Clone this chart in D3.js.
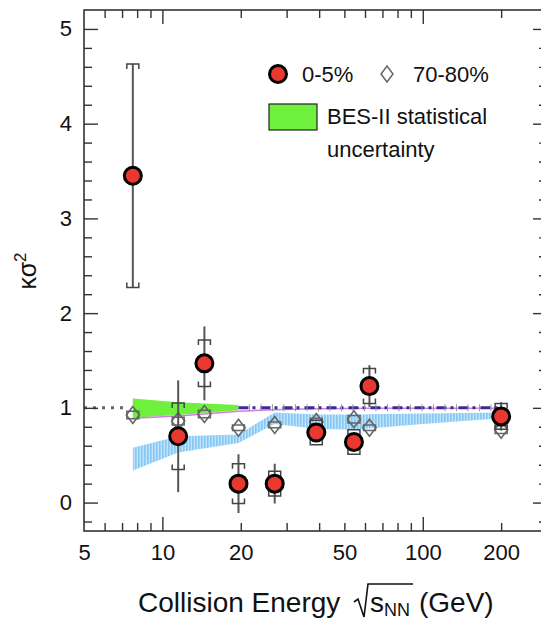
<!DOCTYPE html>
<html>
<head>
<meta charset="utf-8">
<script src="https://cdn.jsdelivr.net/npm/d3@7"></script>
<style>
  body { margin: 0; background: #fff; }
  text { font-family: "Liberation Sans", Arial, Helvetica, sans-serif; fill: #111; }
</style>
</head>
<body>
<svg id="chart" width="541" height="620"></svg>
<script>
// Collision energies (GeV)
const energies = [7.7, 11.5, 14.5, 19.6, 27, 39, 54.4, 62.4, 200];

// 0-5% central: value, statistical and systematic errors
const central     = [3.45, 0.70, 1.47, 0.20, 0.20, 0.74, 0.64, 1.23, 0.91];
const centralStat = [1.18, 0.59, 0.39, 0.31, 0.21, 0.06, 0.06, 0.22, 0.15];
const centralSys  = [1.18, 0.35, 0.245, 0.21, 0.13, 0.13, 0.13, 0.185, 0.135];

// 70-80% peripheral
const peripheral    = [0.925, 0.86, 0.935, 0.79, 0.82, 0.85, 0.88, 0.79, 0.77];
const peripheralSys = [0.04, 0.04, 0.04, 0.03, 0.03, 0.04, 0.04, 0.03, 0.04];

// BES-II projected statistical uncertainty band
const besEnergies = [7.7, 11.5, 14.5, 19.6];
const besUpper    = [1.10, 1.06, 1.045, 1.03];
const besLower    = [0.895, 0.925, 0.945, 0.975];

// Model band (light blue, hatched)
const bandEnergies = [7.7, 11.5, 19.6, 27, 39, 54.4, 100, 200];
const bandUpper    = [0.58, 0.70, 0.72, 0.95, 0.93, 0.93, 0.94, 0.95];
const bandLower    = [0.34, 0.53, 0.63, 0.83, 0.78, 0.77, 0.83, 0.89];

// Thin violet curve
const curveEnergies = [7.7, 11.5, 14.5, 19.6, 27, 39, 62.4, 200];
const curveValues   = [0.89, 0.915, 0.935, 0.965, 0.98, 0.99, 0.995, 0.995];

// Reference line at 1 (dash-dot section)
const refEnergies = [19.6, 200];
const refValues   = [1.0, 1.0];
const refDotEnergies = [5, 7.3];

// Axis ticks
const xLabelTicks = [5, 10, 20, 50, 100, 200];
const xMajorTicks = [10, 100];
const xMinorTicks = [6, 7, 8, 9, 20, 30, 40, 50, 60, 70, 80, 90, 200, 300];
const yMajorTicks = [0, 1, 2, 3, 4, 5];
const yMinorTicks = d3.range(-0.2, 5.2, 0.2).map(v => +v.toFixed(1)).filter(v => Math.abs(v - Math.round(v)) > 0.01);

const svg = d3.select("#chart");
const mLeft = 84, mRight = 547, mTop = 10, mBottom = 531;
const x = d3.scaleLog().domain([5, 300]).range([mLeft, mRight]);
const y = d3.scaleLinear().domain([-0.3, 5.2]).range([mBottom, mTop]);

// hatch pattern for the blue band
const defs = svg.append("defs");
const pat = defs.append("pattern").attr("id", "vhatch")
  .attr("patternUnits", "userSpaceOnUse").attr("width", 3).attr("height", 10);
pat.append("rect").attr("width", 3).attr("height", 10).attr("fill", "#bfe3fb");
pat.append("rect").attr("width", 1.6).attr("height", 10).attr("fill", "#86c8f3");

const plot = svg.append("g");

// blue band
plot.append("path")
  .datum(bandEnergies.map((e, i) => [e, bandLower[i], bandUpper[i]]))
  .attr("fill", "url(#vhatch)")
  .attr("d", d3.area().x(d => x(d[0])).y0(d => y(d[1])).y1(d => y(d[2])));

// green band
plot.append("path")
  .datum(besEnergies.map((e, i) => [e, besLower[i], besUpper[i]]))
  .attr("fill", "#6ef03c")
  .attr("d", d3.area().x(d => x(d[0])).y0(d => y(d[1])).y1(d => y(d[2])));

// violet curve
plot.append("path")
  .datum(curveEnergies.map((e, i) => [e, curveValues[i]]))
  .attr("fill", "none").attr("stroke", "#cf7fe6").attr("stroke-width", 1.5)
  .attr("d", d3.line().x(d => x(d[0])).y(d => y(d[1])));

// dotted reference segment at 1
plot.append("line")
  .attr("x1", x(refDotEnergies[0])).attr("x2", x(refDotEnergies[1]))
  .attr("y1", y(1)).attr("y2", y(1))
  .attr("stroke", "#666").attr("stroke-width", 3).attr("stroke-dasharray", "3,6");

// dash-dot reference line
const refLine = d3.line().x(d => x(d[0])).y(d => y(d[1]));
const refData = refEnergies.map((e, i) => [e, refValues[i]]);
plot.append("path").datum(refData)
  .attr("fill", "none").attr("stroke", "#3b2a98").attr("stroke-width", 3)
  .attr("stroke-dasharray", "10,4,3,5")
  .attr("d", refLine);
plot.append("path").datum(refData)
  .attr("fill", "none").attr("stroke", "#999").attr("stroke-width", 7)
  .attr("stroke-dasharray", "1,10.5,1,10.5")
  .attr("stroke-dashoffset", 1)
  .attr("d", refLine);

// bracket (systematic error) helper
function bracket(g, cx, yv, dir, color, w, h) {
  const yy = y(yv);
  g.append("path")
    .attr("d", `M${cx - w},${yy + dir * h}V${yy}H${cx + w}V${yy + dir * h}`)
    .attr("fill", "none").attr("stroke", color).attr("stroke-width", 1.5);
}

// peripheral diamonds with sys brackets
const per = plot.append("g");
energies.forEach((e, i) => {
  const cx = x(e);
  bracket(per, cx, peripheral[i] + peripheralSys[i], 1, "#666", 6, 4);
  bracket(per, cx, peripheral[i] - peripheralSys[i], -1, "#666", 6, 4);
  const cy = y(peripheral[i]);
  per.append("path")
    .attr("d", `M${cx},${cy - 8.5}L${cx + 6.5},${cy}L${cx},${cy + 8.5}L${cx - 6.5},${cy}Z`)
    .attr("fill", "none").attr("stroke", "#666").attr("stroke-width", 1.6);
});

// central points: stat line, sys brackets, circle
const cen = plot.append("g");
energies.forEach((e, i) => {
  const cx = x(e);
  cen.append("line")
    .attr("x1", cx).attr("x2", cx)
    .attr("y1", y(central[i] + centralStat[i])).attr("y2", y(central[i] - centralStat[i]))
    .attr("stroke", "#555").attr("stroke-width", 2);
  bracket(cen, cx, central[i] + centralSys[i], 1, "#444", 6, 5);
  bracket(cen, cx, central[i] - centralSys[i], -1, "#444", 6, 5);
});
cen.selectAll("circle.c").data(energies).join("circle")
  .attr("cx", d => x(d)).attr("cy", (d, i) => y(central[i])).attr("r", 8.5)
  .attr("fill", "#e8382f").attr("stroke", "#000").attr("stroke-width", 3);

// axes
function strip(g) { g.select(".domain").remove(); g.selectAll("line").attr("stroke", "#333").attr("stroke-width", 1.4); }

svg.append("g").attr("transform", `translate(0,${mBottom})`)
  .call(d3.axisBottom(x).tickValues(xMinorTicks).tickSize(-8).tickFormat("")).call(strip);
svg.append("g").attr("transform", `translate(0,${mBottom})`)
  .call(d3.axisBottom(x).tickValues(xMajorTicks).tickSize(-14).tickFormat("")).call(strip);
svg.append("g").attr("transform", `translate(0,${mBottom})`)
  .call(d3.axisBottom(x).tickValues(xLabelTicks).tickSize(0).tickPadding(13).tickFormat(d3.format("d")))
  .call(g => { g.select(".domain").remove(); g.selectAll("text").attr("font-size", 22).attr("fill", "#111"); });

svg.append("g").attr("transform", `translate(0,${mTop})`)
  .call(d3.axisTop(x).tickValues(xMinorTicks).tickSize(-8).tickFormat("")).call(strip);
svg.append("g").attr("transform", `translate(0,${mTop})`)
  .call(d3.axisTop(x).tickValues(xMajorTicks).tickSize(-14).tickFormat("")).call(strip);

svg.append("g").attr("transform", `translate(${mLeft},0)`)
  .call(d3.axisLeft(y).tickValues(yMinorTicks).tickSize(-8).tickFormat("")).call(strip);
svg.append("g").attr("transform", `translate(${mLeft},0)`)
  .call(d3.axisLeft(y).tickValues(yMajorTicks).tickSize(-14).tickPadding(12).tickFormat(d3.format("d")))
  .call(strip)
  .call(g => g.selectAll("text").attr("font-size", 22).attr("fill", "#111"));

svg.append("g").attr("transform", `translate(${mRight},0)`)
  .call(d3.axisRight(y).tickValues(yMinorTicks).tickSize(-8).tickFormat("")).call(strip);
svg.append("g").attr("transform", `translate(${mRight},0)`)
  .call(d3.axisRight(y).tickValues(yMajorTicks).tickSize(-14).tickFormat("")).call(strip);

// frame
svg.append("rect").attr("x", mLeft).attr("y", mTop)
  .attr("width", mRight - mLeft).attr("height", mBottom - mTop)
  .attr("fill", "none").attr("stroke", "#333").attr("stroke-width", 1.6);

// y title
svg.append("text")
  .attr("transform", "translate(36,271) rotate(-90)")
  .attr("text-anchor", "middle").attr("font-size", 25)
  .html('κσ<tspan dy="-10" font-size="17">2</tspan>');

// x title
const title = svg.append("g");
title.append("text").attr("x", 138).attr("y", 612).attr("font-size", 28).text("Collision Energy");
title.append("path")
  .attr("d", "M354,602 L358,599 L364,617 L368,584 L413,584")
  .attr("fill", "none").attr("stroke", "#111").attr("stroke-width", 1.6);
title.append("text").attr("x", 370).attr("y", 612).attr("font-size", 28)
  .html('s<tspan dy="4" font-size="18">NN</tspan>');
title.append("text").attr("x", 419).attr("y", 612).attr("font-size", 28).text("(GeV)");

// legend
const lg = svg.append("g");
lg.append("circle").attr("cx", 278).attr("cy", 74).attr("r", 8.5)
  .attr("fill", "#e8382f").attr("stroke", "#000").attr("stroke-width", 3);
lg.append("text").attr("x", 302).attr("y", 82).attr("font-size", 22).text("0-5%");
lg.append("path").attr("d", "M387,66L393,74L387,82L381,74Z")
  .attr("fill", "none").attr("stroke", "#666").attr("stroke-width", 1.5);
lg.append("text").attr("x", 413).attr("y", 82).attr("font-size", 22).text("70-80%");
lg.append("rect").attr("x", 269).attr("y", 104).attr("width", 48).attr("height", 26)
  .attr("fill", "#6ef03c").attr("stroke", "#222").attr("stroke-width", 1.2);
lg.append("text").attr("x", 327).attr("y", 124).attr("font-size", 22).text("BES-II statistical");
lg.append("text").attr("x", 327).attr("y", 157).attr("font-size", 22).text("uncertainty");
</script>
</body>
</html>
